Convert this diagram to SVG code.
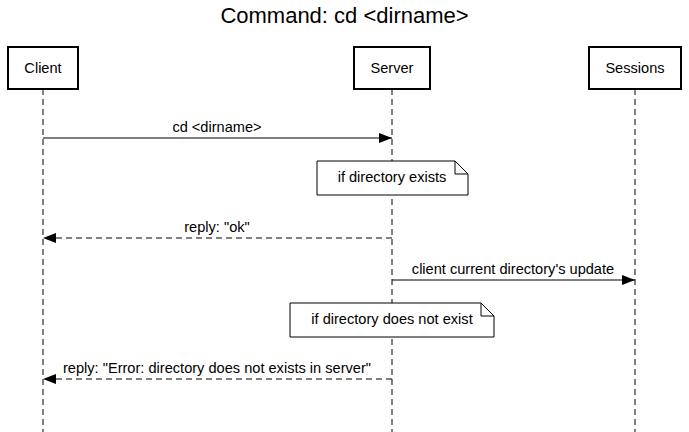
<svg xmlns="http://www.w3.org/2000/svg" width="689" height="432" viewBox="0 0 689 432">
<style>
text{font-family:"Liberation Sans",Arial,sans-serif;fill:#000}
.actor rect{fill:#fff;stroke:#000;stroke-width:2}
.actor text{font-size:14.6px;text-anchor:middle}
.life{stroke:#000;stroke-width:1;stroke-dasharray:6,4}
.msg{stroke:#000;stroke-width:1;fill:none}
.dash{stroke-dasharray:6,4}
.lbl{font-size:14.6px;text-anchor:middle}
.note path{fill:#fff;stroke:#000;stroke-width:1}
.note text{font-size:14.6px;text-anchor:middle}
</style>
<defs>
<marker id="ah" viewBox="0 0 13 10" refX="13" refY="5" markerWidth="13" markerHeight="10" markerUnits="userSpaceOnUse" orient="auto">
<path d="M0,0 L13,5 L0,10 z" fill="#000"/>
</marker>
</defs>
<rect width="689" height="432" fill="#fff"/>
<text x="344.5" y="23" font-size="22" text-anchor="middle">Command: cd &lt;dirname&gt;</text>
<g id="lifelines">
<line class="life" x1="43" y1="89" x2="43" y2="432"/>
<line class="life" x1="392" y1="89" x2="392" y2="432"/>
<line class="life" x1="635" y1="89" x2="635" y2="432"/>
</g>
<g id="client" class="actor"><rect x="8" y="47" width="70" height="42"/><text x="43" y="73">Client</text></g>
<g id="server" class="actor"><rect x="354" y="47" width="76" height="42"/><text x="392" y="73">Server</text></g>
<g id="sessions" class="actor"><rect x="589" y="47" width="92" height="42"/><text x="635" y="73">Sessions</text></g>
<g id="connectors">
<line class="msg" x1="43" y1="138" x2="392" y2="138" marker-end="url(#ah)"/>
<text class="lbl" x="217" y="132">cd &lt;dirname&gt;</text>
<line class="msg dash" x1="392" y1="238" x2="43" y2="238" marker-end="url(#ah)"/>
<text class="lbl" x="217" y="232">reply: "ok"</text>
<line class="msg" x1="392" y1="280" x2="635" y2="280" marker-end="url(#ah)"/>
<text class="lbl" x="513" y="274">client current directory's update</text>
<line class="msg dash" x1="392" y1="379" x2="43" y2="379" marker-end="url(#ah)"/>
<text class="lbl" x="217" y="373">reply: "Error: directory does not exists in server"</text>
</g>
<g id="note1" class="note">
<path d="M317,161 H455 L468,174 V195 H317 Z M455,161 V174 H468"/>
<text x="392" y="182">if directory exists</text>
</g>
<g id="note2" class="note">
<path d="M290,303 H481 L494,316 V337 H290 Z M481,303 V316 H494"/>
<text x="392" y="324">if directory does not exist</text>
</g>
</svg>
